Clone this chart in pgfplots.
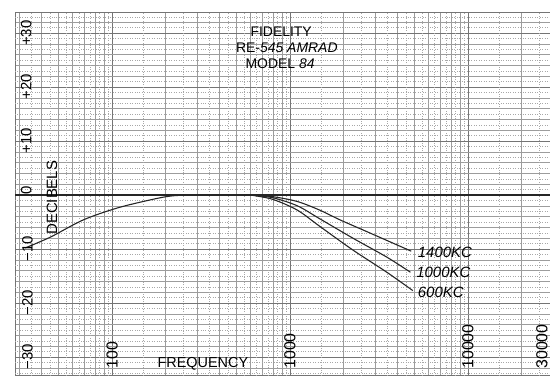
\documentclass[border=0pt]{standalone}
\usepackage{pgfplots}
\pgfplotsset{compat=1.18}
\usepackage{fontspec}
\setmainfont{Liberation Sans}
\definecolor{ink}{HTML}{262626}
\definecolor{gridmaj}{HTML}{747474}
\definecolor{gridmin}{HTML}{9C9C9C}
\definecolor{griddot}{HTML}{A8A8A8}
\begin{document}
\begin{tikzpicture}
\path[use as bounding box] (0,0) rectangle (550bp,380bp);
\begin{axis}[
  at={(15bp,5bp)}, anchor=south west,
  scale only axis, width=535bp, height=363bp,
  xmode=log, xmin=28.5, xmax=28900,
  ymin=-33.33, ymax=33.9,
  axis line style={gridmaj, line width=0.8pt},
  xtick={100,1000,10000}, xticklabels={},
  minor xtick={30,40,50,60,70,80,90,200,300,400,500,600,700,800,900,2000,3000,4000,5000,6000,7000,8000,9000,20000},
  ytick={-30,-20,-10,0,10,20,30}, yticklabels={},
  minor ytick={-32,-28,-26,-24,-22,-18,-16,-14,-12,-8,-6,-4,-2,2,4,6,8,12,14,16,18,22,24,26,28,32},
  major tick length=0pt, minor tick length=0pt,
  grid=both,
  major grid style={gridmaj, line width=0.75pt},
  minor grid style={gridmin, line width=0.45pt},
  extra y ticks={-33,-31,-29,-27,-25,-23,-21,-19,-17,-15,-13,-11,-9,-7,-5,-3,-1,1,3,5,7,9,11,13,15,17,19,21,23,25,27,29,31,33},
  extra y tick labels={},
  extra y tick style={grid=major, major grid style={griddot, line width=0.45pt, dotted}},
  extra x ticks={35,45,55,65,75,85,95,150,250,350,450,550,650,750,850,950,1500,2500,3500,4500,5500,6500,7500,8500,9500,15000,25000},
  extra x tick labels={},
  extra x tick style={grid=major, major grid style={griddot, line width=0.45pt, dotted}},
  clip=false,
  every node/.append style={text=ink, inner sep=0pt},
]
% heavy 0 dB line
\addplot[ink, line width=1.1pt] coordinates {(28.5,0) (28900,0)};
% common low-frequency curve
\addplot[ink, line width=1.1pt, smooth] coordinates {
  (32.5,-9.8) (45,-7.8) (69,-4.6) (107,-2.4) (164,-0.9) (212,-0.2) (280,0) (600,0)};
% 1400 KC
\addplot[ink, line width=1.1pt, smooth] coordinates {
  (600,0) (800,-0.3) (1100,-1.2) (1470,-2.8) (1910,-4.6) (2800,-7.0) (4800,-10.4)};
% 1000 KC
\addplot[ink, line width=1.1pt, smooth] coordinates {
  (600,0) (800,-0.5) (1100,-2.0) (1470,-4.4) (2260,-8.0) (3500,-11.5) (4750,-14.3)};
% 600 KC
\addplot[ink, line width=1.1pt, smooth] coordinates {
  (600,0) (800,-0.8) (1100,-2.8) (1470,-5.8) (2260,-10.2) (3500,-14.3) (4900,-17.7)};

% y scale labels
\node[rotate=90, font=\fontsize{15}{15}\selectfont] at (axis cs:33,30) {+30};
\node[rotate=90, font=\fontsize{15}{15}\selectfont] at (axis cs:33,20) {+20};
\node[rotate=90, font=\fontsize{15}{15}\selectfont] at (axis cs:33,10) {+10};
\node[rotate=90, font=\fontsize{15}{15}\selectfont] at (axis cs:33,0.8) {0};
\node[rotate=90, font=\fontsize{15}{15}\selectfont] at (axis cs:33.5,-10) {−10};
\node[rotate=90, font=\fontsize{15}{15}\selectfont] at (axis cs:33.5,-20) {−20};
\node[rotate=90, font=\fontsize{15}{15}\selectfont] at (axis cs:33.5,-30) {−30};
\node[rotate=90, font=\fontsize{15}{15}\selectfont] at (axis cs:46,-0.5) {DECIBELS};
% x scale labels
\node[rotate=90, anchor=west, font=\fontsize{16}{16}\selectfont] at (axis cs:100,-32.8) {100};
\node[rotate=90, anchor=west, font=\fontsize{16}{16}\selectfont] at (axis cs:1000,-32.8) {1000};
\node[rotate=90, anchor=west, font=\fontsize{16}{16}\selectfont] at (axis cs:10000,-32.8) {10000};
\node[rotate=90, anchor=west, font=\fontsize{16}{16}\selectfont] at (axis cs:26000,-32.8) {30000};
\node[font=\fontsize{14.5}{14.5}\selectfont] at (axis cs:324,-31.3) {FREQUENCY};
% title
\node[font=\fontsize{14}{14}\selectfont] at (axis cs:892,30.2) {FIDELITY};
\node[font=\fontsize{14}{14}\selectfont] at (axis cs:960,27.2) {RE-\textit{545 AMRAD}};
\node[font=\fontsize{14}{14}\selectfont] at (axis cs:880,24.4) {MODEL \textit{84}};
% curve labels
\node[anchor=west, font=\itshape\fontsize{15}{15}\selectfont] at (axis cs:5000,-10.6) {1400KC};
\node[anchor=west, font=\itshape\fontsize{15}{15}\selectfont] at (axis cs:4900,-14.4) {1000KC};
\node[anchor=west, font=\itshape\fontsize{15}{15}\selectfont] at (axis cs:5000,-18.0) {600KC};
\end{axis}
\end{tikzpicture}
\end{document}
